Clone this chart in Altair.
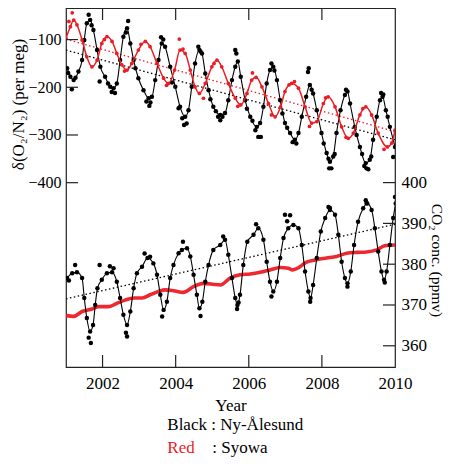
import altair as alt
import pandas as pd

# ---------------- data ----------------
year_ticks = [2002, 2004, 2006, 2008, 2010]
o2_ticks = [-100, -200, -300, -400]
co2_ticks = [360, 370, 380, 390, 400]

# Ny-Alesund d(O2/N2) fitted curve
bo_t = [2001.03, 2001.21, 2001.34, 2001.44, 2001.5, 2001.57, 2001.66, 2001.75, 2001.85, 2001.94,
        2002.07, 2002.21, 2002.3, 2002.39, 2002.48, 2002.57, 2002.67, 2002.76, 2002.85, 2002.98,
        2003.12, 2003.26, 2003.35, 2003.44, 2003.53, 2003.62, 2003.71, 2003.85, 2003.99,
        2004.12, 2004.26, 2004.35, 2004.44, 2004.53, 2004.65, 2004.72, 2004.81, 2004.9,
        2005.03, 2005.22, 2005.35, 2005.44, 2005.54, 2005.63, 2005.7, 2005.78, 2005.9,
        2006.04, 2006.22, 2006.31, 2006.4, 2006.49, 2006.58, 2006.67, 2006.77, 2006.86, 2006.99,
        2007.13, 2007.26, 2007.36, 2007.45, 2007.57, 2007.67, 2007.76, 2007.86, 2007.99,
        2008.13, 2008.22, 2008.31, 2008.4, 2008.51, 2008.63, 2008.7, 2008.77, 2008.9,
        2009.04, 2009.2, 2009.31, 2009.4, 2009.5, 2009.59, 2009.66, 2009.75, 2009.86, 2010.0]
bo_v = [-160, -185, -167, -143, -101, -66, -59, -80, -122, -157,
        -178, -199, -202, -192, -143, -94, -76, -108, -143, -181,
        -206, -223, -220, -185, -143, -108, -115, -157, -199,
        -241, -262, -248, -199, -150, -122, -129, -171, -206,
        -241, -258, -254, -227, -185, -157, -146, -178, -227,
        -262, -283, -275, -241, -192, -164, -157, -185, -227, -275,
        -296, -310, -296, -262, -220, -195, -213, -248, -296,
        -338, -356, -345, -296, -248, -216, -209, -234, -283,
        -325, -359, -352, -310, -262, -227, -220, -248, -283, -325]
# Ny-Alesund d(O2/N2) scattered samples
bo_xt = [2001.06, 2001.12, 2001.16, 2001.26, 2001.62, 2001.7, 2001.92,
         2002.15, 2002.25, 2002.34, 2002.64, 2002.7, 2002.9,
         2003.2, 2003.28, 2003.31, 2003.6, 2003.66, 2003.9,
         2004.08, 2004.18, 2004.23, 2004.3, 2004.62, 2004.68, 2004.95,
         2005.1, 2005.16, 2005.22, 2005.28, 2005.63, 2005.66, 2005.95,
         2006.1, 2006.18, 2006.26, 2006.33, 2006.62, 2006.7, 2006.92,
         2007.05, 2007.2, 2007.3, 2007.62, 2007.64, 2007.72,
         2008.05, 2008.18, 2008.2, 2008.26, 2008.35, 2008.66, 2008.95,
         2009.1, 2009.16, 2009.22, 2009.27, 2009.35, 2009.62, 2009.68, 2009.8, 2009.95]
bo_xv = [-170, -178, -204, -180, -48, -70, -188,
         -192, -210, -212, -85, -61, -160,
         -230, -239, -232, -95, -100, -190,
         -244, -265, -279, -276, -115, -125, -225,
         -250, -262, -269, -262, -122, -129, -245,
         -270, -290, -304, -304, -150, -165, -255,
         -285, -315, -318, -168, -160, -205,
         -318, -350, -370, -370, -340, -205, -300,
         -340, -365, -370, -372, -345, -212, -215, -262, -346]

# Syowa d(O2/N2)
ro_t = [2001.0, 2001.12, 2001.21, 2001.3, 2001.44, 2001.57, 2001.71, 2001.85, 2001.98,
        2002.12, 2002.26, 2002.39, 2002.53, 2002.67, 2002.8, 2002.98,
        2003.17, 2003.3, 2003.49, 2003.67, 2003.8, 2003.97,
        2004.12, 2004.26, 2004.4, 2004.53, 2004.65, 2004.81, 2004.99,
        2005.13, 2005.26, 2005.44, 2005.63, 2005.78, 2005.95,
        2006.08, 2006.2, 2006.36, 2006.54, 2006.72, 2006.87, 2006.99,
        2007.17, 2007.36, 2007.54, 2007.72, 2007.86,
        2008.04, 2008.17, 2008.36, 2008.54, 2008.72, 2008.86,
        2009.04, 2009.2, 2009.36, 2009.54, 2009.79, 2009.91, 2010.0]
ro_v = [-97, -73, -59, -69, -101, -136, -157, -143, -108,
        -94, -104, -129, -153, -164, -150, -122,
        -104, -115, -150, -181, -192, -164,
        -122, -129, -164, -199, -213, -192, -157,
        -143, -157, -192, -223, -237, -213,
        -185, -179, -199, -234, -262, -241, -209,
        -192, -202, -241, -275, -272,
        -234, -220, -241, -283, -307, -296,
        -258, -241, -258, -296, -325, -317, -290]
ro_xt = [2001.17, 2001.08, 2002.05, 2002.6, 2003.05, 2003.75, 2004.1, 2004.2, 2004.76, 2005.05,
         2005.7, 2006.1, 2006.62, 2007.1, 2007.25, 2007.66, 2008.1, 2008.66, 2009.12, 2009.7]
ro_xv = [-44, -62, -100, -166, -110, -196, -99, -120, -223, -150,
         -240, -170, -258, -195, -188, -282, -222, -305, -245, -330]

# Ny-Alesund CO2 fitted curve
bc_t = [2001.03, 2001.17, 2001.3, 2001.44, 2001.5, 2001.57, 2001.66, 2001.74, 2001.8, 2001.86, 2001.98,
        2002.12, 2002.26, 2002.39, 2002.48, 2002.57, 2002.67, 2002.76, 2002.85, 2002.94,
        2003.08, 2003.23, 2003.39, 2003.49, 2003.58, 2003.67, 2003.76, 2003.85, 2003.94,
        2004.08, 2004.17, 2004.31, 2004.4, 2004.49, 2004.58, 2004.65, 2004.73, 2004.81, 2004.9,
        2005.03, 2005.22, 2005.35, 2005.44, 2005.54, 2005.63, 2005.69, 2005.76, 2005.85, 2005.96,
        2006.13, 2006.26, 2006.4, 2006.49, 2006.58, 2006.67, 2006.77, 2006.86, 2006.95,
        2007.08, 2007.22, 2007.36, 2007.45, 2007.54, 2007.63, 2007.69, 2007.76, 2007.86, 2007.97,
        2008.09, 2008.22, 2008.36, 2008.45, 2008.54, 2008.63, 2008.7, 2008.79, 2008.88, 2008.99,
        2009.13, 2009.24, 2009.36, 2009.45, 2009.54, 2009.63, 2009.7, 2009.77, 2009.86, 2009.95, 2010.02]
bc_v = [376.6, 377.8, 378.0, 376.6, 371.7, 366.8, 363.5, 365.1, 370.0, 374.1, 376.2,
        377.8, 378.0, 375.7, 371.7, 367.6, 365.1, 368.4, 374.1, 377.8,
        379.4, 381.5, 380.2, 377.4, 372.5, 368.8, 370.8, 376.6, 379.8,
        382.7, 383.5, 383.9, 381.9, 377.4, 372.5, 369.2, 370.8, 375.7, 379.8,
        383.5, 384.7, 386.0, 382.3, 376.6, 371.7, 370.0, 372.5, 379.8, 385.5,
        387.2, 388.8, 386.0, 380.6, 375.7, 373.3, 375.7, 381.5, 386.4,
        388.8, 389.6, 388.8, 384.7, 378.2, 373.3, 371.7, 374.9, 381.5, 388.0,
        391.3, 393.3, 392.1, 387.2, 380.6, 376.6, 375.3, 378.2, 384.7, 390.4,
        393.7, 394.9, 393.3, 388.8, 383.1, 378.2, 376.2, 378.2, 384.7, 391.3, 394.9]
bc_xt = [2001.08, 2001.25, 2001.62, 2001.68, 2001.92, 2002.2, 2002.3, 2002.64, 2002.67,
         2003.15, 2003.3, 2003.63, 2004.2, 2004.68, 2005.3, 2005.68, 2005.72,
         2006.2, 2006.62, 2006.99, 2007.05, 2007.13, 2007.68, 2008.18, 2008.22, 2008.7,
         2009.2, 2009.22, 2009.72, 2010.0]
bc_xv = [376.0, 379.8, 362.0, 360.7, 379.8, 379.5, 379.0, 363.2, 362.3,
         382.6, 381.8, 367.2, 385.5, 367.3, 386.8, 369.0, 370.6,
         389.8, 372.1, 392.1, 390.5, 392.0, 370.8, 394.0, 393.8, 374.5,
         395.7, 395.0, 375.5, 396.5]

# Syowa CO2
rc_t = [2001.0, 2001.21, 2001.44, 2001.71, 2001.89, 2002.17, 2002.39, 2002.62, 2002.85,
        2003.08, 2003.3, 2003.53, 2003.71, 2003.94, 2004.21, 2004.49, 2004.76,
        2005.03, 2005.22, 2005.49, 2005.76, 2006.04, 2006.31, 2006.58, 2006.86,
        2007.08, 2007.2, 2007.31, 2007.58, 2007.86, 2008.13, 2008.4, 2008.68, 2008.95,
        2009.22, 2009.5, 2009.72, 2010.0]
rc_v = [367.4, 367.2, 368.4, 369.0, 369.6, 369.6, 370.4, 371.2, 371.7,
        371.7, 372.5, 373.3, 373.7, 373.5, 373.1, 374.5, 375.3,
        375.1, 374.9, 376.6, 377.4, 377.6, 378.0, 378.6, 379.2,
        379.0, 378.6, 378.9, 380.5, 381.1, 381.5, 381.9, 382.7, 382.9,
        383.0, 383.5, 384.5, 384.7]

# dotted trend lines
trend_t = [2001.0, 2010.0]
bo_trend = [-122, -310]
ro_trend = [-99, -293]
bc_trend = [371.5, 389.8]

# ---------------- styling ----------------
FONT = "Liberation Serif"
RED = "#ec1c24"
BLK = "#000000"
AX = "#222222"
W, H = 329, 359
TOTAL_W, TOTAL_H = 437, 450
PAD_L = 58

x_enc = alt.X(
    "t:Q",
    scale=alt.Scale(domain=[2001, 2010], nice=False, zero=False),
    axis=alt.Axis(values=year_ticks, format="d", ticks=False, domain=False, grid=False,
                  labelFlush=False, labelOverlap=False,
                  labelFont=FONT, labelFontSize=17, labelColor="black",
                  labelBaseline="alphabetic", labelPadding=21,
                  title="Year", titleFont=FONT, titleFontSize=17, titleFontWeight="normal",
                  titleColor="black", titleBaseline="alphabetic", titleY=43),
)
y_o2 = alt.Y(
    "v:Q",
    scale=alt.Scale(domain=[-786.4, -33.8], nice=False, zero=False),
    axis=alt.Axis(orient="left", values=o2_ticks, ticks=False, domain=False, grid=False,
                  labelFont=FONT, labelFontSize=16, labelColor="black", labelPadding=5,
                  title="δ(O₂/N₂) (per meg)", titleFont=FONT, titleFontSize=17,
                  titleFontWeight="normal", titleColor="black", titleAngle=270,
                  titleX=-42.5, titleY=96, titleAlign="center", titleBaseline="alphabetic"),
)
y_co2 = alt.Y(
    "c:Q",
    scale=alt.Scale(domain=[354.8, 442.8], nice=False, zero=False),
    axis=alt.Axis(orient="right", values=co2_ticks, ticks=False, domain=False, grid=False,
                  labelFont=FONT, labelFontSize=17, labelColor="black", labelPadding=6,
                  title="CO₂ conc. (ppmv)", titleFont=FONT, titleFontSize=15.5,
                  titleFontWeight="normal", titleColor="black", titleAngle=90,
                  titleX=36, titleY=252, titleAlign="center", titleBaseline="alphabetic"),
)

bo_df = pd.DataFrame({"t": bo_t, "v": bo_v})
bo_x_df = pd.DataFrame({"t": bo_xt, "v": bo_xv})
ro_df = pd.DataFrame({"t": ro_t, "v": ro_v})
ro_x_df = pd.DataFrame({"t": ro_xt, "v": ro_xv})
bc_df = pd.DataFrame({"t": bc_t, "c": bc_v})
bc_x_df = pd.DataFrame({"t": bc_xt, "c": bc_xv})
rc_df = pd.DataFrame({"t": rc_t, "c": rc_v})
bo_tr = pd.DataFrame({"t": trend_t, "v": bo_trend})
ro_tr = pd.DataFrame({"t": trend_t, "v": ro_trend})
bc_tr = pd.DataFrame({"t": trend_t, "c": bc_trend})


def line(df, y, color, sw, dash=None, opacity=1.0):
    kw = dict(color=color, strokeWidth=sw, clip=True, interpolate="monotone", opacity=opacity)
    if dash is not None:
        kw["strokeDash"] = dash
        kw["interpolate"] = "linear"
    return alt.Chart(df).mark_line(**kw).encode(x=x_enc, y=y)


def dots(df, y, color, size):
    return alt.Chart(df).mark_circle(color=color, size=size, opacity=1, clip=True).encode(x=x_enc, y=y)


left_ticks = alt.Chart(pd.DataFrame({"v": o2_ticks})).mark_rule(color=AX, strokeWidth=1.2).encode(
    y=y_o2, x=alt.value(0), x2=alt.value(12))
right_ticks = alt.Chart(pd.DataFrame({"c": co2_ticks})).mark_rule(color=AX, strokeWidth=1.2).encode(
    y=y_co2, x=alt.value(W - 12), x2=alt.value(W))
bottom_ticks = alt.Chart(pd.DataFrame({"t": year_ticks[:-1]})).mark_rule(color=AX, strokeWidth=1.2).encode(
    x=x_enc, y=alt.value(H - 12), y2=alt.value(H))
top_ticks = alt.Chart(pd.DataFrame({"t": year_ticks[:-1]})).mark_rule(color=AX, strokeWidth=1.2).encode(
    x=x_enc, y=alt.value(0), y2=alt.value(12))

legend1 = alt.Chart(pd.DataFrame({"label": ["Black : Ny-Ålesund"]})).mark_text(
    font=FONT, fontSize=17, align="left", baseline="alphabetic", color="black").encode(
    text="label:N", x=alt.value(101.3), y=alt.value(422))
legend2 = alt.Chart(pd.DataFrame({"label": ["Red"]})).mark_text(
    font=FONT, fontSize=17, align="left", baseline="alphabetic", color=RED).encode(
    text="label:N", x=alt.value(101.3), y=alt.value(444.5))
legend3 = alt.Chart(pd.DataFrame({"label": [": Syowa"]})).mark_text(
    font=FONT, fontSize=17, align="left", baseline="alphabetic", color="black").encode(
    text="label:N", x=alt.value(146.3), y=alt.value(444.5))

o2 = alt.layer(
    line(bo_tr, y_o2, BLK, 1.3, [1.5, 2.5]),
    line(ro_tr, y_o2, RED, 1.3, [1.5, 2.5]),
    line(bo_df, y_o2, BLK, 1.1),
    dots(bo_df, y_o2, BLK, 20),
    dots(bo_x_df, y_o2, BLK, 20),
    line(ro_df, y_o2, RED, 1.5),
    dots(ro_df, y_o2, RED, 14),
    dots(ro_x_df, y_o2, RED, 14),
    left_ticks, bottom_ticks, top_ticks,
    legend1, legend2, legend3,
)

co2 = alt.layer(
    line(bc_tr, y_co2, BLK, 1.3, [1.5, 2.5]),
    line(rc_df, y_co2, RED, 3.6, opacity=0.95),
    line(bc_df, y_co2, BLK, 1.1),
    dots(bc_df, y_co2, BLK, 20),
    dots(bc_x_df, y_co2, BLK, 20),
    right_ticks,
)

chart = alt.layer(o2, co2).resolve_scale(y="independent").properties(
    width=W, height=H,
    padding={"left": PAD_L, "top": 0, "right": TOTAL_W - PAD_L - W, "bottom": TOTAL_H - H},
    autosize=alt.AutoSizeParams(type="none"),
).configure_view(stroke=AX, strokeWidth=1.2)

chart.save("out.html", embed_options={"renderer": "svg", "actions": False})
